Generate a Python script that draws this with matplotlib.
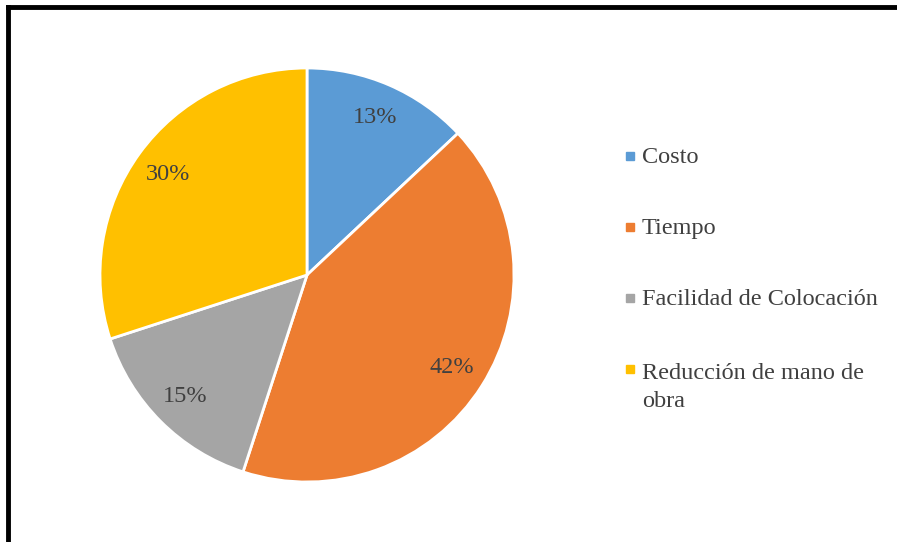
import matplotlib.pyplot as plt
from matplotlib.lines import Line2D

categories = ["Costo", "Tiempo", "Facilidad de Colocación", "Reducción de mano de\nobra"]
values = [13, 42, 15, 30]
colors = ["#5B9BD5", "#ED7D31", "#A5A5A5", "#FFC000"]

plt.rcParams["font.family"] = ["Liberation Serif", "DejaVu Serif"]
text_color = "#404040"

W, H = 897, 542
fig = plt.figure(figsize=(W / 100, H / 100), dpi=100)

# pie centre and radius in pixels
cx, cy, r = 307, 275, 207
ax = fig.add_axes([(cx - r) / W, (H - cy - r) / H, 2 * r / W, 2 * r / H])
wedges, _, autotexts = ax.pie(
    values, colors=colors, startangle=90, counterclock=False,
    autopct="%1.0f%%", pctdistance=0.83,
    wedgeprops=dict(edgecolor="white", linewidth=2),
    textprops=dict(color=text_color, fontsize=17.5),
)
ax.set_xlim(-1, 1)
ax.set_ylim(-1, 1)
ax.set_aspect("equal")

# legend, drawn by hand (baseline of first line, in pixels)
rows_y = [163, 234, 305, 376]
line_h = 31
for lab, col, y in zip(categories, colors, rows_y):
    fig.patches.append(plt.Rectangle((626 / W, 1 - (y - 3) / H), 8 / W, 8 / H,
                                     transform=fig.transFigure, color=col))
    # va="baseline" uses the last line, so push multi-line labels down
    y_last = y + line_h * lab.count("\n")
    fig.text(642 / W, 1 - y_last / H, lab, ha="left", va="baseline",
             fontsize=17.5, color=text_color, linespacing=1.45)

# frame lines (top and left only)
fig.add_artist(Line2D([8 / W, 1], [1 - 7 / H, 1 - 7 / H], color="black", lw=3.5,
                      transform=fig.transFigure))
fig.add_artist(Line2D([8 / W, 8 / W], [0, 1 - 7 / H], color="black", lw=3.5,
                      transform=fig.transFigure))

fig.savefig("out.png", dpi=100)
